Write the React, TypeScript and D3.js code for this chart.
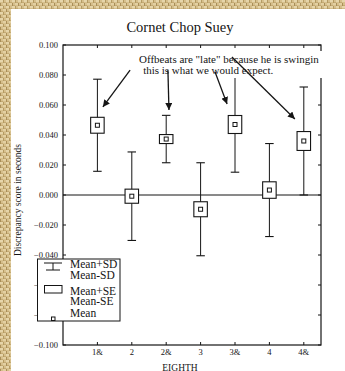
import React from "react";
import * as d3 from "d3";

const categories = ["1&", "2", "2&", "3", "3&", "4", "4&"];
const means = [0.0465, -0.0008, 0.0373, -0.0095, 0.047, 0.0033, 0.036];
const seValues = [0.0053, 0.0047, 0.003, 0.005, 0.006, 0.0055, 0.0063];
const sdValues = [0.0307, 0.0295, 0.0158, 0.031, 0.0318, 0.031, 0.036];
const yTicks = [0.1, 0.08, 0.06, 0.04, 0.02, 0, -0.02, -0.04, -0.06, -0.08, -0.1];
// arrows in data coords: [x1, y1, x2, y2]
const arrows = [
  [1.95, 0.0833, 1.16, 0.0587],
  [3.05, 0.0833, 3.08, 0.0567],
  [4.42, 0.082, 4.77, 0.0607],
  [4.91, 0.092, 6.74, 0.0507],
];
const noteLines = ['Offbeats are "late" because he is swingin', "this is what we would expect."];
const legendLabels = ["Mean+SD", "Mean-SD", "Mean+SE", "Mean-SE", "Mean"];

const W = 345;
const H = 371;
const L = 63, R = 321, T = 45, B = 345;

export default function App() {
  const x = d3.scaleLinear().domain([0, 7.5]).range([L, R]);
  const y = d3.scaleLinear().domain([-0.1, 0.1]).range([B, T]);
  const fmt = d3.format(".3f");
  const ink = "#151515";
  const font = "'Liberation Serif', 'Times New Roman', Times, serif";
  const capW = 8.5;
  const boxW = 13.5;
  const legendY = [268, 278.5, 294.5, 304.5, 317];

  return (
    <svg width={W} height={H} style={{ position: "absolute", left: 0, top: 0, fontFamily: font }}>
      <defs>
        <pattern id="burlap" width="6" height="6" patternUnits="userSpaceOnUse">
          <rect width="6" height="6" fill="#d6bf8c" />
          <rect x="0" y="0" width="3" height="2" fill="#e6d5aa" />
          <rect x="3" y="3" width="3" height="2" fill="#e3d0a2" />
          <rect x="3" y="0" width="1" height="3" fill="#b49a62" />
          <rect x="0" y="3" width="1" height="3" fill="#a98e58" />
          <rect x="1" y="5" width="2" height="1" fill="#c4aa74" />
          <rect x="4" y="2" width="2" height="1" fill="#c4aa74" />
        </pattern>
        <marker id="ah" viewBox="0 0 10 10" refX="10" refY="5" markerWidth="7" markerHeight="7" orient="auto" markerUnits="userSpaceOnUse">
          <path d="M0,0 L10,5 L0,10 Z" fill={ink} />
        </marker>
      </defs>
      <rect width={W} height={H} fill="url(#burlap)" />
      <rect x={11} y={9} width={W - 11} height={H - 9} fill="#fff" />

      <text x={180} y={32} textAnchor="middle" fontSize={14.5} fill={ink}>Cornet Chop Suey</text>

      {/* frame */}
      <rect x={L} y={T} width={R - L} height={B - T} fill="none" stroke={ink} strokeWidth={1.2} />
      {/* zero line */}
      <line x1={L} x2={R} y1={y(0)} y2={y(0)} stroke={ink} strokeWidth={1} />

      {/* y ticks */}
      {yTicks.map((t) => (
        <g key={t}>
          <line x1={L} x2={L + 3} y1={y(t)} y2={y(t)} stroke={ink} />
          <line x1={R} x2={R - 3} y1={y(t)} y2={y(t)} stroke={ink} />
          <text x={58} y={y(t) + 3} textAnchor="end" fontSize={8.5} fill={ink}>{fmt(t)}</text>
        </g>
      ))}
      {/* x ticks */}
      {categories.map((c, i) => (
        <g key={c}>
          <line x1={x(i + 1)} x2={x(i + 1)} y1={T} y2={T + 3} stroke={ink} />
          <line x1={x(i + 1)} x2={x(i + 1)} y1={B} y2={B - 3} stroke={ink} />
          <text x={x(i + 1)} y={355} textAnchor="middle" fontSize={8.5} fill={ink}>{c}</text>
        </g>
      ))}

      {/* whiskers and boxes */}
      {categories.map((c, i) => {
        const cx = x(i + 1);
        const m = means[i];
        const top = y(m + sdValues[i]);
        const bot = y(m - sdValues[i]);
        const bt = y(m + seValues[i]);
        const bb = y(m - seValues[i]);
        return (
          <g key={"d" + c} stroke={ink}>
            <line x1={cx} x2={cx} y1={top} y2={bot} strokeWidth={1} />
            <line x1={cx - capW / 2} x2={cx + capW / 2} y1={top} y2={top} strokeWidth={1.1} />
            <line x1={cx - capW / 2} x2={cx + capW / 2} y1={bot} y2={bot} strokeWidth={1.1} />
            <rect x={cx - boxW / 2} y={bt} width={boxW} height={bb - bt} fill="#fff" strokeWidth={1.1} />
            <rect x={cx - 2} y={y(m) - 2} width={4} height={4} fill="#fff" strokeWidth={1} />
          </g>
        );
      })}

      {/* annotation */}
      <rect x={137} y={51} width={189} height={27} fill="#fff" />
      <text x={x(2.21)} y={y(0.088)} fontSize={11} fill={ink}>{noteLines[0]}</text>
      <text x={x(2.33)} y={y(0.0807)} fontSize={11} fill={ink}>{noteLines[1]}</text>
      {arrows.map((a, i) => (
        <line key={"a" + i} x1={x(a[0])} y1={y(a[1])} x2={x(a[2])} y2={y(a[3])} stroke={ink} strokeWidth={1.3} markerEnd="url(#ah)" />
      ))}

      {/* axis titles */}
      <text transform={`translate(21,200) rotate(-90)`} textAnchor="middle" fontSize={9.5} fill={ink}>Discrepancy score in seconds</text>
      <text x={180} y={371} textAnchor="middle" fontSize={9.5} fill={ink}>EIGHTH</text>

      {/* legend */}
      <g>
        <rect x={37.5} y={259} width={82.5} height={62} fill="#fff" stroke={ink} strokeWidth={1} />
        <g stroke={ink} strokeWidth={1}>
          <line x1={44} x2={62} y1={263} y2={263} />
          <line x1={53} x2={53} y1={263} y2={270} />
          <line x1={46} x2={60} y1={270} y2={270} />
          <rect x={44.5} y={285.5} width={17.5} height={7.5} fill="#fff" />
          <rect x={51.5} y={317} width={3.5} height={3.5} fill="#fff" />
        </g>
        <g fontSize={11.5} fill={ink}>
          {legendLabels.map((l, i) => (
            <text key={l} x={70} y={legendY[i]}>{l}</text>
          ))}
        </g>
      </g>
    </svg>
  );
}
